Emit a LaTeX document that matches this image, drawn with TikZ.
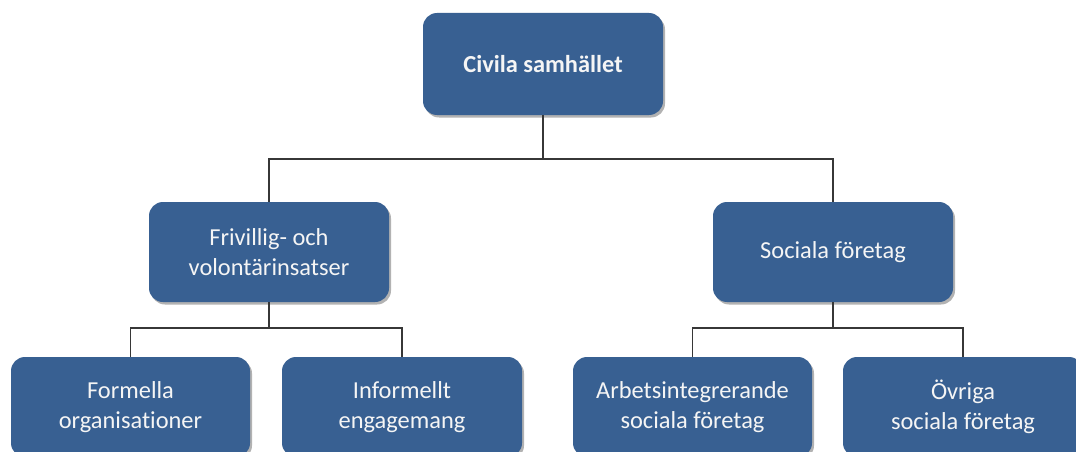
\documentclass[tikz,border=0pt]{standalone}
\usepackage{fontspec}
\setmainfont{Carlito}[Ligatures=NoCommon]
\usetikzlibrary{shadows}
\definecolor{boxblue}{RGB}{56,96,146}
\definecolor{linegray}{RGB}{55,55,55}
\definecolor{textwhite}{RGB}{245,245,245}
\begin{document}
\begin{tikzpicture}[x=1pt,y=-1pt,
  orgbox/.style={rectangle, rounded corners=14pt, fill=boxblue, text=textwhite,
    minimum width=240pt, minimum height=100pt, inner sep=0pt, align=center,
    font=\fontsize{24.4}{30}\selectfont,
    drop shadow={shadow xshift=2pt, shadow yshift=-2.5pt, opacity=0.3, fill=black}},
  link/.style={draw=linegray, line width=1.6pt}]
\useasboundingbox (0,0) rectangle (1076,452);
\clip (0,0) rectangle (1076,452);
\fill[white] (0,0) rectangle (1076,452);

\node[orgbox, minimum height=102pt, font=\fontsize{24.4}{30}\selectfont\bfseries] (root) at (543,64) {Civila samhället};
\node[orgbox] (friv) at (269,252) {Frivillig- och\\volontärinsatser};
\node[orgbox] (soc) at (833,252) {Sociala företag};
\node[orgbox, minimum width=239pt] (form) at (130.5,407) {Formella\\organisationer};
\node[orgbox] (inf) at (402,407) {Informellt\\engagemang};
\node[orgbox, minimum width=239pt] (arb) at (692.5,407) {Arbetsintegrerande\\sociala företag};
\node[orgbox] (ovr) at (963,407) {Övriga\\sociala företag};

\draw[link] (root.south) -- ++(0,44) coordinate (j1);
\draw[link] (friv.north) |- (j1) -| (soc.north);
\draw[link] (friv.south) -- ++(0,26) coordinate (j2);
\draw[link] (form.north) |- (j2) -| (inf.north);
\draw[link] (soc.south) -- ++(0,26) coordinate (j3);
\draw[link] (arb.north) |- (j3) -| (ovr.north);
\end{tikzpicture}
\end{document}
